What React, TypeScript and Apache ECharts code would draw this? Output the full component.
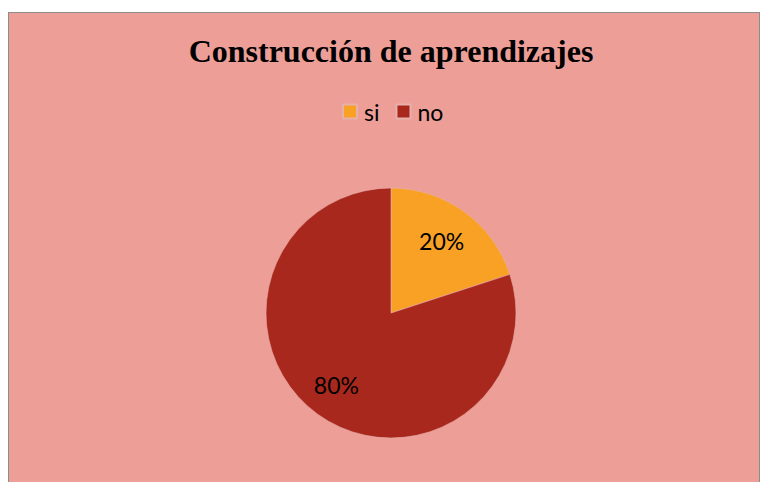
import React, { useEffect, useRef } from "react";
import * as echarts from "echarts";

const categories = ["si", "no"];
const values = [20, 80];
const colors = ["#F9A125", "#A9281E"];
const titleText = "Construcción de aprendizajes";

export default function App() {
  const ref = useRef<HTMLDivElement>(null);
  useEffect(() => {
    if (!ref.current) return;
    const chart = echarts.init(ref.current, undefined, { renderer: "svg" });
    const data = categories.map((c, i) => ({ name: c, value: values[i] }));
    const total = values.reduce((a, b) => a + b, 0);
    chart.setOption({
      animation: false,
      backgroundColor: "#EC9E97",
      title: {
        text: titleText,
        left: 377,
        textAlign: "center",
        top: 17,
        textStyle: {
          fontFamily: "Liberation Serif",
          fontWeight: "bold",
          fontSize: 32,
          color: "#000",
        },
      },
      legend: {
        data: categories,
        left: 328,
        top: 82,
        itemWidth: 14,
        itemHeight: 14,
        itemGap: 16,
        icon: "rect",
        textStyle: { fontFamily: "Lato", fontSize: 23, color: "#000", padding: [0, 0, 0, 2] },
        selectedMode: false,
      },
      color: colors,
      series: [
        {
          type: "pie",
          center: [382, 300],
          radius: [0, 125],
          startAngle: 90,
          clockwise: true,
          data,
          label: { show: false },
          labelLine: { show: false },
          itemStyle: { borderColor: "#E8B0AA", borderWidth: 0.6 },
          silent: true,
        },
        {
          type: "pie",
          center: [380, 300],
          radius: [48, 125],
          startAngle: 90,
          clockwise: true,
          data,
          itemStyle: { color: "transparent" },
          label: {
            show: true,
            position: "inside",
            formatter: (p: any) => Math.round((p.value / total) * 100) + "%",
            fontFamily: "Lato",
            fontSize: 23,
            color: "#000",
          },
          labelLine: { show: false },
          silent: true,
          legendHoverLink: false,
        },
      ],
    });
    return () => chart.dispose();
  }, []);
  return (
    <div style={{ position: "fixed", left: 0, top: 0, width: 761, height: 482, background: "#fff" }}>
      <div
        style={{
          position: "absolute",
          left: 8,
          top: 12,
          width: 750,
          height: 470,
          borderLeft: "1px solid #8c8c8c",
          borderTop: "1px solid #8c8c8c",
          borderRight: "1px solid #8c8c8c",
        }}
      >
        <div ref={ref} style={{ width: 750, height: 470 }} />
      </div>
    </div>
  );
}
